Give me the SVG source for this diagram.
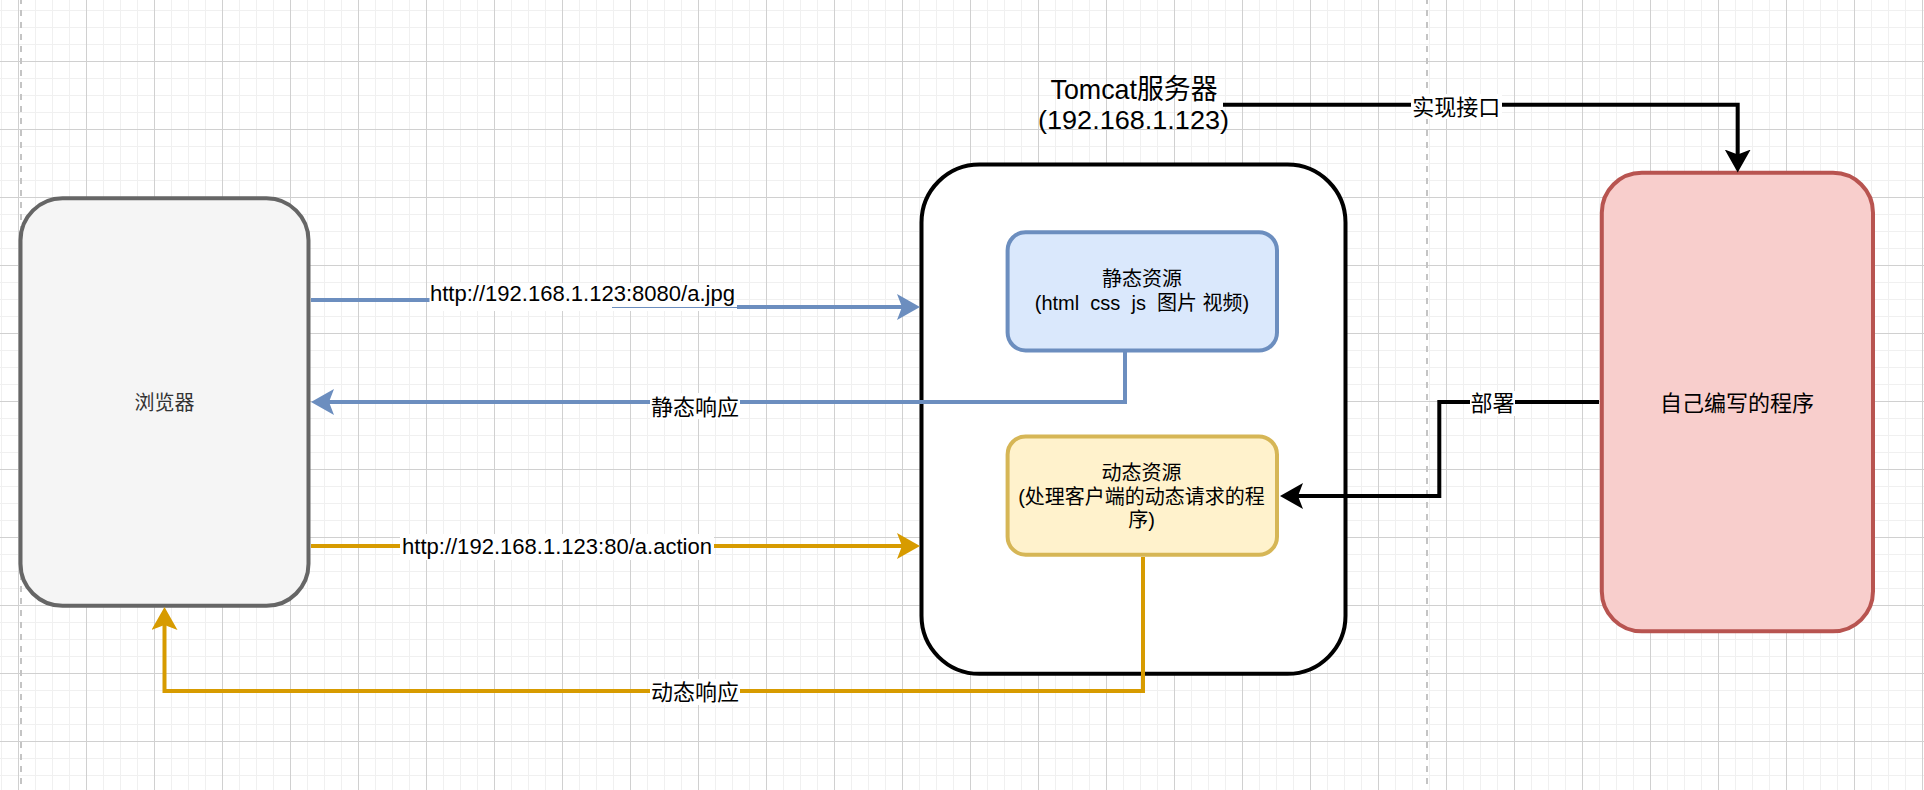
<svg xmlns="http://www.w3.org/2000/svg" width="1924" height="790" viewBox="0 0 1924 790">
<defs>
<pattern id="grid" x="18" y="61" width="68" height="68" patternUnits="userSpaceOnUse">
<rect width="68" height="68" fill="#ffffff"/>
<rect x="17" y="0" width="1" height="68" fill="#f0f0f0"/>
<rect x="34" y="0" width="1" height="68" fill="#f0f0f0"/>
<rect x="51" y="0" width="1" height="68" fill="#f0f0f0"/>
<rect x="0" y="17" width="68" height="1" fill="#f0f0f0"/>
<rect x="0" y="34" width="68" height="1" fill="#f0f0f0"/>
<rect x="0" y="51" width="68" height="1" fill="#f0f0f0"/>
<rect x="0" y="0" width="1" height="68" fill="#d0d0d0"/>
<rect x="0" y="0" width="68" height="1" fill="#d0d0d0"/>
</pattern>
<marker id="ah-blue" viewBox="0 0 23 26" refX="7" refY="13" markerWidth="23" markerHeight="26" markerUnits="userSpaceOnUse" orient="auto"><path d="M23,13 L0,0 L5,13 L0,26 Z" fill="#6c8ebf"/></marker>
<marker id="ah-yellow" viewBox="0 0 23 26" refX="7" refY="13" markerWidth="23" markerHeight="26" markerUnits="userSpaceOnUse" orient="auto"><path d="M23,13 L0,0 L5,13 L0,26 Z" fill="#d79b00"/></marker>
<marker id="ah-black" viewBox="0 0 23 26" refX="7" refY="13" markerWidth="23" markerHeight="26" markerUnits="userSpaceOnUse" orient="auto"><path d="M23,13 L0,0 L5,13 L0,26 Z" fill="#000000"/></marker>
</defs>
<style>
text{font-family:"Liberation Sans","Noto Sans CJK SC",sans-serif;fill:#000}
.node{stroke-width:4}
.edge{fill:none;stroke-width:4}
.blue{stroke:#6c8ebf}
.yellow{stroke:#d79b00}
.black{stroke:#000000}
.lbl{font-size:22px}
.ntxt{font-size:20px}
.bg{fill:#ffffff}
.page{stroke:#c4c4c4;stroke-width:2;stroke-dasharray:6 6;stroke-dashoffset:2;fill:none}
</style>
<rect x="0" y="0" width="1924" height="790" fill="url(#grid)"/>
<path class="page" d="M21,0 V790"/>
<path class="page" d="M1427,0 V790"/>

<g id="browser">
<rect class="node" x="20.5" y="198.3" width="288" height="407.5" rx="42" ry="42" fill="#f5f5f5" stroke="#666666"/>
<text class="ntxt" x="164.5" y="409.6" text-anchor="middle" style="fill:#333333">浏览器</text>
</g>

<g id="tomcat">
<rect class="node" x="921.5" y="164.5" width="424" height="509.3" rx="58" ry="58" fill="#ffffff" stroke="#000000"/>
</g>

<g id="tomcat-label">
<text x="1050.5" y="99.3" font-size="28" textLength="167" lengthAdjust="spacingAndGlyphs">Tomcat服务器</text>
<text x="1038" y="128.8" font-size="25" textLength="191" lengthAdjust="spacingAndGlyphs">(192.168.1.123)</text>
</g>

<g id="static-res">
<rect class="node" x="1007.6" y="232.2" width="269.4" height="118.3" rx="18" ry="18" fill="#dae8fc" stroke="#6c8ebf"/>
<text class="ntxt" x="1142" y="286" text-anchor="middle">静态资源</text>
<text class="ntxt" x="1142" y="310" text-anchor="middle" xml:space="preserve">(html  css  js  图片 视频)</text>
</g>

<g id="dynamic-res">
<rect class="node" x="1007.6" y="436.5" width="269.4" height="118.2" rx="18" ry="18" fill="#fff2cc" stroke="#d6b656"/>
<text class="ntxt" x="1141.5" y="480" text-anchor="middle">动态资源</text>
<text class="ntxt" x="1141.5" y="503.5" text-anchor="middle">(处理客户端的动态请求的程</text>
<text class="ntxt" x="1141.5" y="527" text-anchor="middle">序)</text>
</g>

<g id="my-program">
<rect class="node" x="1601.8" y="172.8" width="271.2" height="458.5" rx="40" ry="40" fill="#f8cecc" stroke="#b85450"/>
<text class="lbl" x="1737" y="411.4" text-anchor="middle">自己编写的程序</text>
</g>

<g id="connectors">
<path class="edge blue" d="M311,300 H612 V307 H904" marker-end="url(#ah-blue)"/>
<rect class="bg" x="429.5" y="283" width="307.5" height="28"/>
<path d="M612,307.5 H737" stroke="#6c8ebf" stroke-width="1" fill="none"/>
<text class="lbl" x="430" y="300.7" textLength="305" lengthAdjust="spacingAndGlyphs">http://192.168.1.123:8080/a.jpg</text>

<path class="edge blue" d="M1125,352 V402 H327" marker-end="url(#ah-blue)"/>
<rect class="bg" x="650" y="393" width="90" height="26"/>
<text class="lbl" x="695" y="415" text-anchor="middle">静态响应</text>

<path class="edge yellow" d="M311,546 H904" marker-end="url(#ah-yellow)"/>
<rect class="bg" x="400" y="534" width="314" height="26"/>
<text class="lbl" x="402" y="553.5" textLength="310" lengthAdjust="spacingAndGlyphs">http://192.168.1.123:80/a.action</text>

<path class="edge yellow" d="M1143,557 V691 H164.5 V623" marker-end="url(#ah-yellow)"/>
<rect class="bg" x="650" y="679" width="90" height="26"/>
<text class="lbl" x="695" y="700" text-anchor="middle">动态响应</text>

<path class="edge black" d="M1223,104.7 H1737.7 V156.5" marker-end="url(#ah-black)"/>
<rect class="bg" x="1411" y="94" width="91" height="25"/>
<text class="lbl" x="1456.3" y="115" text-anchor="middle">实现接口</text>

<path class="edge black" d="M1599,402 H1439.3 V496 H1296" marker-end="url(#ah-black)"/>
<rect class="bg" x="1470" y="391" width="45" height="25"/>
<text class="lbl" x="1492.4" y="411.4" text-anchor="middle">部署</text>
</g>
</svg>
